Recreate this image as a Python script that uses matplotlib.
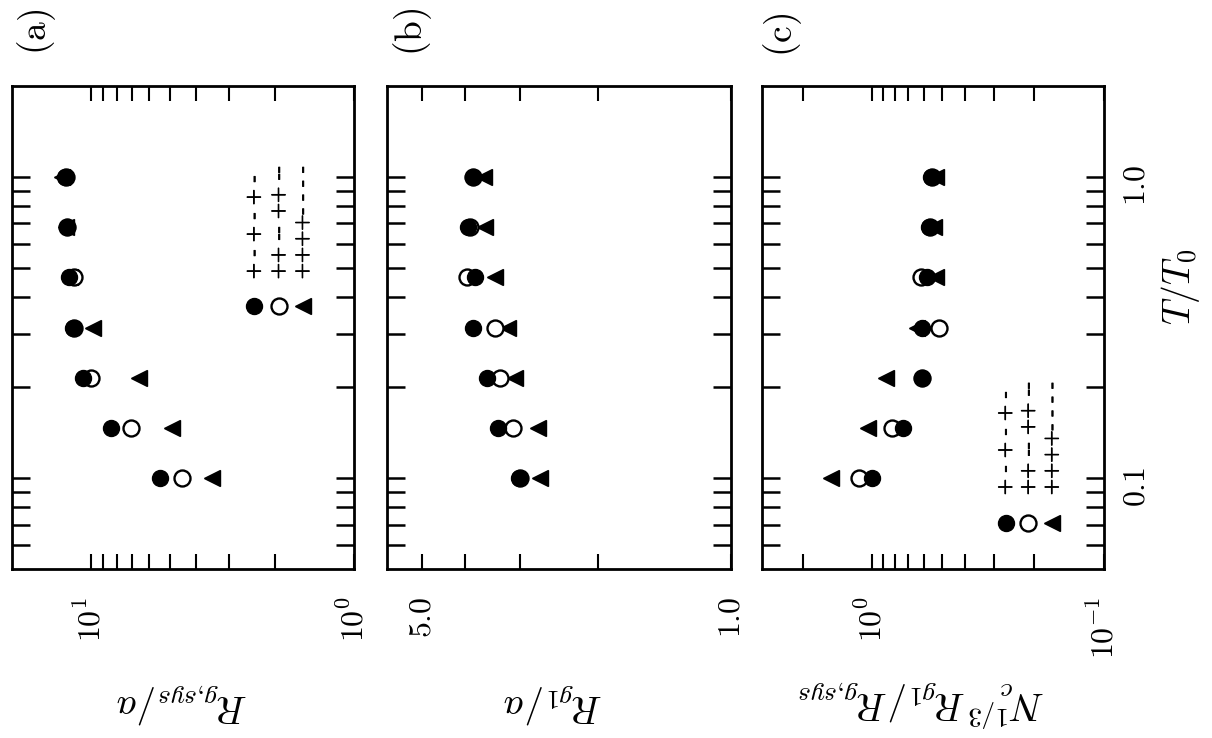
import matplotlib
matplotlib.use('Agg')
import matplotlib.pyplot as plt
import matplotlib.patheffects as pe
from matplotlib.ticker import NullFormatter

plt.rcParams['mathtext.fontset'] = 'cm'
plt.rcParams['font.family'] = ['DejaVu Serif']

# temperature T/T0 (vertical axis of each rotated panel)
T = [0.1, 0.147, 0.215, 0.316, 0.464, 0.681, 1.0]

# (a) R_g,sys / a
a_filled = [5.47, 8.4, 10.7, 11.7, 12.1, 12.4, 12.6]
a_open = [4.51, 7.05, 10.0, 11.6, 11.6, 12.3, 12.5]
a_tri = [3.47, 4.92, 6.6, 9.8, 12.0, 12.5, 12.9]

# (b) R_g1 / a
b_filled = [3.02, 3.37, 3.56, 3.83, 3.79, 3.93, 3.83]
b_open = [3.0, 3.12, 3.33, 3.42, 3.96, 3.90, 3.83]
b_tri = [2.70, 2.73, 3.08, 3.19, 3.42, 3.60, 3.62]

# (c) N_c^{1/3} R_g1 / R_g,sys
c_filled = [1.006, 0.737, 0.612, 0.609, 0.58, 0.57, 0.56]
c_open = [1.14, 0.825, 0.61, 0.516, 0.619, 0.565, 0.555]
c_tri = [1.51, 1.05, 0.876, 0.64, 0.533, 0.54, 0.533]

seq_labels = ['+ - + - + -', '++ -- ++ --', '++++- - - -']

fig = plt.figure(figsize=(12.12, 7.38), dpi=100)
W, H = 1212, 738


def add_panel(left, right, top=86, bottom=569):
    return fig.add_axes([left / W, 1 - bottom / H, (right - left) / W, (bottom - top) / H])


def style(ax, xlim, major, major_labels, minor):
    ax.set_xscale('log')
    ax.set_yscale('log')
    ax.set_xlim(*xlim)
    ax.set_ylim(0.05, 2.0)
    ax.set_xticks(major, labels=major_labels)
    ax.set_xticks(minor, minor=True)
    ax.xaxis.set_minor_formatter(NullFormatter())
    ax.set_yticks([0.1, 1.0], labels=['$0.1$', '$1.0$'])
    ax.set_yticks([0.06, 0.07, 0.08, 0.09, 0.2, 0.3, 0.4, 0.5, 0.6, 0.7, 0.8, 0.9], minor=True)
    ax.yaxis.set_minor_formatter(NullFormatter())
    ax.tick_params(axis='x', which='both', direction='in', top=True, bottom=True,
                   length=11, width=1.5)
    ax.tick_params(axis='y', which='both', direction='in', left=True, right=True,
                   length=13, width=1.8)
    ax.tick_params(axis='x', which='major', labelrotation=90, pad=20, labelsize=23)
    ax.tick_params(axis='y', labelleft=False)
    for s in ax.spines.values():
        s.set_linewidth(2.0)


def draw(ax, filled, opn, tri):
    ax.plot(tri, T, '<', color='k', ms=11.5, ls='none', zorder=2)
    ax.plot(opn, T, 'o', mfc='white', mec='k', mew=1.7, ms=11.5, ls='none', zorder=3)
    ax.plot(filled, T, 'o', color='k', ms=11.5, ls='none', zorder=4)


def legend(ax, xs, ym, ytxt):
    ax.plot([xs[0]], [ym], 'o', color='k', ms=11.5, transform=ax.transAxes, clip_on=False)
    ax.plot([xs[1]], [ym], 'o', mfc='white', mec='k', mew=1.7, ms=11.5,
            transform=ax.transAxes, clip_on=False)
    ax.plot([xs[2]], [ym], '<', color='k', ms=11.5, transform=ax.transAxes, clip_on=False)
    for x, lab in zip(xs, seq_labels):
        ax.text(x, ytxt, lab, transform=ax.transAxes, rotation=90, ha='center',
                va='bottom', fontsize=15, family='cmr10',
                path_effects=[pe.withStroke(linewidth=0.6, foreground='k')])


ax_a = add_panel(12, 354)
style(ax_a, (20, 1), [10, 1], [r'$10^1$', r'$10^0$'], [2, 3, 4, 5, 6, 7, 8, 9])
draw(ax_a, a_filled, a_open, a_tri)
legend(ax_a, [0.708, 0.780, 0.850], 0.545, 0.60)

ax_b = add_panel(387, 731)
style(ax_b, (6, 1), [5, 1], [r'$5.0$', r'$1.0$'], [2, 3, 4])
draw(ax_b, b_filled, b_open, b_tri)

ax_c = add_panel(762, 1104)
style(ax_c, (3, 0.1), [1, 0.1], [r'$10^0$', r'$10^{-1}$'],
      [2, 0.9, 0.8, 0.7, 0.6, 0.5, 0.4, 0.3, 0.2])
draw(ax_c, c_filled, c_open, c_tri)
ax_c.tick_params(axis='y', which='major', labelright=True, labelrotation=90,
                 pad=12, labelsize=23)
legend(ax_c, [0.712, 0.779, 0.848], 0.095, 0.153)

# panel tags and axis titles (rotated like the scanned page)
for x, y, tag in [(37, 32, '(a)'), (413, 32, '(b)'), (783, 35, '(c)')]:
    fig.text(x / W, 1 - y / H, r'$\mathrm{' + tag + '}$', rotation=90,
             ha='center', va='center', fontsize=27)

fig.text(182 / W, 1 - 703 / H, r'$R_{g{,}sys}/a$', rotation=180, ha='center', va='center', fontsize=28)
fig.text(553 / W, 1 - 703 / H, r'$R_{g1}/a$', rotation=180, ha='center', va='center', fontsize=28)
fig.text(922 / W, 1 - 703 / H, r'$N_c^{1/3}R_{g1}/R_{g{,}sys}$', rotation=180,
         ha='center', va='center', fontsize=28)
fig.text(1181 / W, 1 - 287 / H, r'$T/T_0$', rotation=90, ha='center', va='center', fontsize=27)

fig.savefig('out.png', dpi=100)
